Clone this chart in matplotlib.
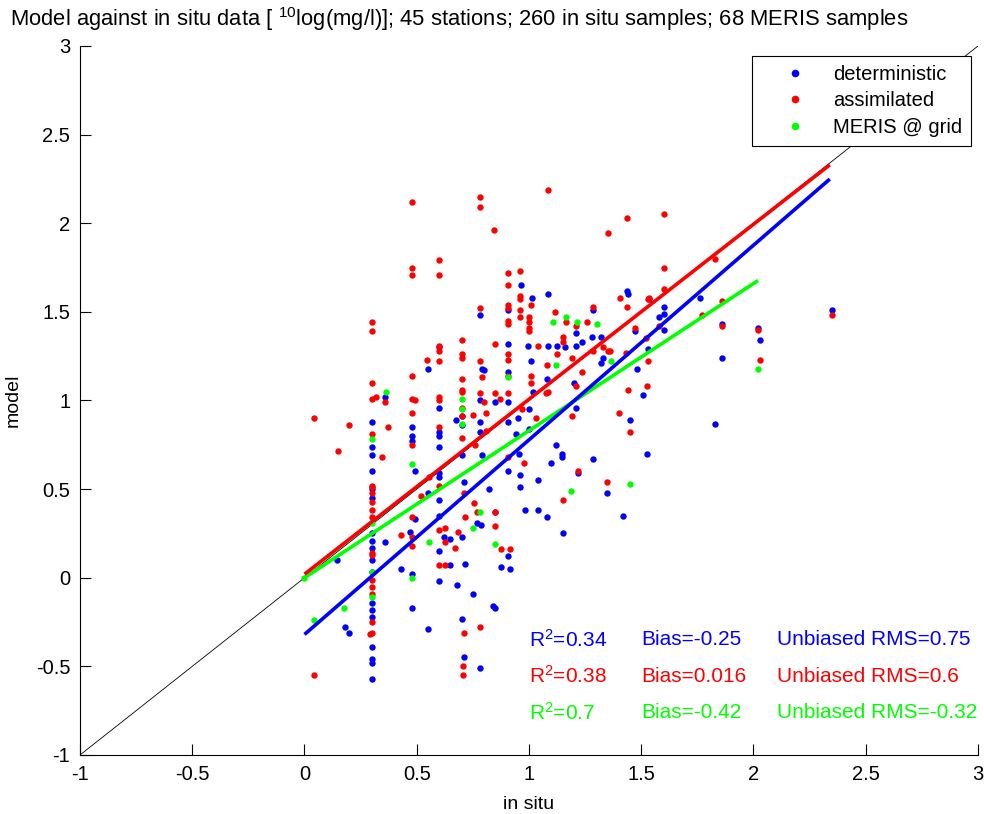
import matplotlib
matplotlib.use("Agg")
import matplotlib.pyplot as plt
from matplotlib.lines import Line2D

plt.rcParams['font.family'] = ['Liberation Sans', 'DejaVu Sans']
plt.rcParams['mathtext.fontset'] = 'custom'
plt.rcParams['mathtext.rm'] = 'Liberation Sans'
plt.rcParams['mathtext.default'] = 'regular'

# model output (deterministic run) against in situ samples
blue_x = [0.145, 0.18, 0.20,
          0.30, 0.30, 0.30, 0.30, 0.30, 0.30, 0.30, 0.30, 0.30, 0.30, 0.30, 0.30, 0.30, 0.30, 0.30, 0.30, 0.30, 0.30,
          0.36, 0.36, 0.43,
          0.48, 0.48, 0.48, 0.49, 0.49, 0.47, 0.48, 0.48,
          0.55, 0.55, 0.55,
          0.60, 0.60, 0.60, 0.60, 0.60, 0.60, 0.60, 0.60, 0.60, 0.60, 0.60, 0.62, 0.65, 0.65,
          0.675, 0.70, 0.70, 0.70, 0.71, 0.70, 0.715, 0.68, 0.70, 0.71,
          0.78, 0.79, 0.80, 0.78, 0.78, 0.78, 0.79, 0.77, 0.785, 0.75, 0.78, 0.82,
          0.85, 0.85, 0.85, 0.84, 0.875, 0.906, 0.906, 0.906, 0.906, 0.906, 0.906, 0.915, 0.906, 0.95, 0.94,
          0.955, 0.965, 0.96, 0.96, 0.98, 0.995, 1.013, 1.01, 1.04, 1.04, 1.0, 1.0, 1.02,
          1.085, 1.085, 1.08, 1.08, 1.10, 1.12, 1.125, 1.147, 1.147, 1.15, 1.16, 1.20, 1.21, 1.21, 1.218, 1.236, 1.21,
          1.28, 1.285, 1.285, 1.32, 1.32, 1.33, 1.347, 1.42, 1.437, 1.44, 1.45, 1.47, 1.48, 1.51, 1.525,
          1.535, 1.60, 1.58, 1.60, 1.60, 1.53, 1.76, 1.86, 1.86, 1.83, 2.02, 2.03, 2.35]
blue_y = [0.10, -0.28, -0.31,
          0.88, 0.74, 0.69, 0.60, 0.50, 0.45, 0.25, 0.21, 0.17, 0.10, 0.03, -0.14, -0.18, -0.22, -0.39, -0.46, -0.48, -0.57,
          1.02, 0.20, 0.05,
          0.85, 0.80, 0.77, 0.60, 0.33, 0.26, 0.02, -0.17,
          1.18, 0.48, -0.29,
          1.30, 0.96, 0.82, 0.80, 0.74, 0.59, 0.57, 0.44, 0.35, 0.15, -0.02, 0.23, 0.22, 0.07,
          0.89, 0.91, 0.86, 0.69, 0.54, 0.23, 0.08, -0.04, -0.23, -0.45,
          1.48, 1.18, 1.17, 1.00, 0.88, 0.82, 0.69, 0.31, 0.30, -0.09, -0.51, 0.50,
          0.99, 0.37, -0.17, -0.16, 0.06, 1.51, 1.32, 1.16, 0.99, 0.88, 0.12, 0.05, 0.60, 0.90, 0.81,
          0.70, 1.65, 0.58, 0.51, 0.38, 1.31, 1.58, 1.22, 0.55, 0.38, 0.95, 0.84, 1.05,
          1.60, 1.31, 1.12, 0.34, 0.65, 0.75, 1.31, 0.70, 0.68, 0.25, 1.30, 1.10, 1.38, 0.96, 0.59, 1.33, 1.31,
          1.36, 1.51, 0.67, 1.36, 1.21, 1.24, 0.48, 0.35, 1.62, 1.60, 0.89, 1.39, 1.18, 1.03, 0.70,
          1.57, 1.53, 1.47, 1.49, 1.40, 1.29, 1.58, 1.43, 1.24, 0.87, 1.41, 1.34, 1.51]

# model output after assimilation
red_x = [0.043, 0.043, 0.149, 0.20,
         0.30, 0.30, 0.30, 0.30, 0.32, 0.30, 0.30, 0.30, 0.30, 0.30, 0.30, 0.30, 0.30, 0.30, 0.30, 0.30, 0.30, 0.30, 0.30, 0.29,
         0.36, 0.37, 0.345,
         0.43, 0.48, 0.48, 0.48, 0.48, 0.48, 0.49, 0.48, 0.48, 0.48, 0.48, 0.48,
         0.546, 0.52, 0.555,
         0.60, 0.60, 0.60, 0.60, 0.60, 0.60, 0.60, 0.60, 0.60, 0.60, 0.60, 0.625, 0.625, 0.625, 0.67, 0.684,
         0.70, 0.70, 0.70, 0.70, 0.70, 0.70, 0.70, 0.70, 0.70, 0.75, 0.71, 0.715, 0.755, 0.77, 0.76, 0.71, 0.706, 0.706,
         0.78, 0.78, 0.78, 0.78, 0.79, 0.78, 0.80, 0.81, 0.81, 0.78,
         0.845, 0.85, 0.85, 0.85, 0.85, 0.875, 0.915, 0.906, 0.906, 0.906, 0.906, 0.906, 0.906, 0.906, 0.906, 0.906,
         0.906, 0.906, 0.87,
         0.96, 0.96, 0.96, 0.96, 0.96, 0.978, 0.97, 1.0, 1.0, 1.0, 1.0, 1.01, 1.01, 1.01, 1.04, 1.03, 1.075,
         1.085, 1.08, 1.085, 1.116, 1.125, 1.15, 1.15, 1.15, 1.165, 1.19, 1.19, 1.21, 1.21, 1.218, 1.236, 1.26, 1.285,
         1.285, 1.33, 1.35, 1.36, 1.35, 1.347, 1.405, 1.40, 1.43, 1.437, 1.437, 1.44, 1.45, 1.47, 1.525, 1.53,
         1.60, 1.60, 1.60, 1.535, 1.58, 1.52, 1.53, 1.83, 1.77, 1.86, 1.86, 2.02, 2.03, 2.35]
red_y = [0.90, -0.55, 0.715, 0.86,
         1.44, 1.39, 1.10, 1.01, 1.02, 0.81, 0.52, 0.51, 0.48, 0.43, 0.38, 0.34, 0.14, 0.13, -0.01, -0.05, -0.09, -0.25, -0.31, -0.32,
         0.99, 0.85, 0.68,
         0.24, 2.12, 1.75, 1.71, 1.14, 1.01, 1.00, 0.93, 0.75, 0.34, 0.23, 0.18,
         1.23, 0.46, 0.57,
         1.79, 1.71, 1.31, 1.28, 1.22, 1.02, 1.00, 0.85, 0.52, 0.27, 0.07, 0.28, 0.20, 0.07, 0.17, 0.26,
         1.34, 1.26, 1.24, 1.12, 1.06, 1.05, 0.96, 0.91, 0.79, 0.92, 0.48, 0.34, 0.42, 0.37, 0.75, -0.31, -0.50, -0.55,
         2.15, 2.09, 1.52, 1.22, 1.13, 1.04, 0.99, 0.93, 0.83, -0.28,
         1.96, 1.32, 1.04, 0.37, 0.29, 0.16, 0.16, 1.72, 1.65, 1.54, 1.52, 1.45, 1.43, 1.26, 1.23, 1.14,
         1.04, 0.68, 1.01,
         1.73, 1.59, 1.57, 1.51, 1.47, 0.65, 0.95, 1.47, 1.44, 1.41, 1.39, 1.54, 1.14, 1.10, 1.31, 0.90, 1.04,
         2.19, 1.20, 1.05, 1.50, 1.26, 1.36, 1.33, 0.44, 1.44, 1.24, 0.91, 1.42, 1.08, 0.60, 1.16, 1.44, 1.53,
         1.28, 1.30, 1.28, 1.28, 1.945, 0.54, 1.58, 0.93, 1.27, 2.03, 1.53, 1.06, 0.82, 1.41, 1.08, 1.57,
         2.05, 1.75, 1.63, 1.58, 1.42, 1.35, 1.22, 1.80, 1.48, 1.56, 1.42, 1.40, 1.23, 1.48]

# MERIS chlorophyll at the model grid
green_x = [0.0, 0.043, 0.176, 0.30, 0.30, 0.30, 0.30, 0.363, 0.48, 0.48, 0.555, 0.70, 0.70, 0.70,
           0.75, 0.78, 0.85, 0.906, 1.107, 1.165, 1.214, 1.303, 1.12, 1.365, 1.187, 1.45, 2.02]
green_y = [0.0, -0.24, -0.17, 0.78, 0.31, 0.03, -0.11, 1.05, 0.64, 0.0, 0.20, 1.01, 0.95, 0.87,
           0.28, 0.37, 0.19, 1.13, 1.44, 1.47, 1.44, 1.43, 1.20, 1.22, 0.49, 0.53, 1.18]

# linear fits: intercept, slope, x range
fit_blue = (-0.32, 1.098, 0.0, 2.34)
fit_red = (0.02, 0.987, 0.0, 2.34)
fit_green = (0.0, 0.83, 0.0, 2.02)

stats_r2 = ['0.34', '0.38', '0.7']
stats_bias = ['-0.25', '0.016', '-0.42']
stats_rms = ['0.75', '0.6', '-0.32']

blue = (0, 0, 1)
red = (1, 0, 0)
green = (0, 1, 0)

fig = plt.figure(figsize=(9.84, 8.14), dpi=100)
ax = fig.add_axes([0.0813, 0.0725, 0.9126, 0.871])

# one to one line
ax.plot([-1, 3], [-1, 3], color='black', lw=0.6, zorder=1)

ms = 4.6
ax.plot(blue_x, blue_y, 'o', color=blue, ms=ms, mew=0, zorder=2)
ax.plot(red_x, red_y, 'o', color=red, ms=ms, mew=0, zorder=3)
ax.plot(green_x, green_y, 'o', color=green, ms=ms, mew=0, zorder=4)

for fit, c in [(fit_green, green), (fit_blue, blue), (fit_red, red)]:
    a, b, x0, x1 = fit
    ax.plot([x0, x1], [a + b * x0, a + b * x1], color=c, lw=2.6, zorder=5,
            solid_capstyle='butt')

ax.set_xlim(-1, 3)
ax.set_ylim(-1, 3)
ticks = [-1, -0.5, 0, 0.5, 1, 1.5, 2, 2.5, 3]
ticklabels = ['-1', '-0.5', '0', '0.5', '1', '1.5', '2', '2.5', '3']
ax.set_xticks(ticks)
ax.set_xticklabels(ticklabels)
ax.set_yticks(ticks)
ax.set_yticklabels(ticklabels)
ax.tick_params(direction='in', length=8, width=0.8, labelsize=14.5, pad=7)
ax.spines['top'].set_visible(False)
ax.spines['right'].set_visible(False)
for s in ['left', 'bottom']:
    ax.spines[s].set_linewidth(0.8)

ax.set_xlabel('in situ', fontsize=14, labelpad=9)
ax.set_ylabel('model', fontsize=14, labelpad=10)

fig.text(10 / 984, 1 - 19 / 814,
         'Model against in situ data [ $^{10}$log(mg/l)]; 45 stations; 260 in situ samples; 68 MERIS samples',
         fontsize=15.8, ha='left', va='center')

# statistics per series
rows_y = [-0.35, -0.555, -0.76]
for i, c in enumerate([blue, red, green]):
    ax.text(1.0, rows_y[i], 'R$^2$=' + stats_r2[i], color=c, fontsize=15, va='center')
    ax.text(1.5, rows_y[i], 'Bias=' + stats_bias[i], color=c, fontsize=15, va='center')
    ax.text(2.105, rows_y[i], 'Unbiased RMS=' + stats_rms[i], color=c, fontsize=15, va='center')

handles = [Line2D([], [], ls='', marker='o', color=c, ms=5.5, mew=0) for c in [blue, red, green]]
leg = ax.legend(handles, ['deterministic', 'assimilated', 'MERIS @ grid'],
                loc='upper right', bbox_to_anchor=(0.992, 0.986), borderaxespad=0,
                fancybox=False, framealpha=1, edgecolor='black',
                prop={'size': 14.5},
                handlelength=3.4, handletextpad=0.18, borderpad=0.43, labelspacing=0.39)
leg.get_frame().set_linewidth(0.8)
leg.set_zorder(10)

plt.savefig('out.png', dpi=100)
